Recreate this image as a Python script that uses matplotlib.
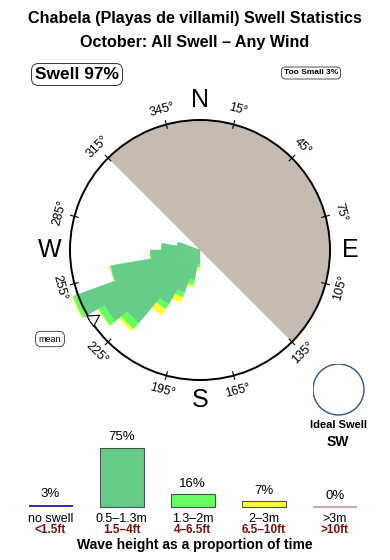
import numpy as np
import matplotlib
matplotlib.use('Agg')
import matplotlib.pyplot as plt
from matplotlib.transforms import blended_transform_factory

plt.rcParams['font.family'] = ['Liberation Sans', 'DejaVu Sans']

# ---------------- data ----------------
title_lines = ["Chabela (Playas de villamil) Swell Statistics",
               "October: All Swell – Any Wind"]
swell_pct = 97
too_small_pct = 3
ideal_dir = "SW"

rose_dirs = [185, 195, 205, 215, 225, 235, 245, 255, 265, 275, 285]
rose_band1 = [14, 30, 45, 62, 95, 110, 131, 90, 49.5, 38.5, 23]   # 0.5-1.3m
rose_band2 = [3, 5, 5, 6, 8, 7, 4, 1, 0, 0, 0]                     # 1.3-2m
rose_band3 = [3, 2, 6, 7, 3, 1, 1, 0, 0, 0, 0]                     # 2-3m
rose_rmax = 130
mean_dir = 237

compass_ticks = [15, 45, 75, 105, 135, 165, 195, 225, 255, 285, 315, 345]
compass_points = ["N", "E", "S", "W"]
compass_angles = [0, 90, 180, 270]
shade_start = 315
shade_span = 180

height_cats = ["no swell", "0.5–1.3m", "1.3–2m", "2–3m", ">3m"]
height_ft = ["<1.5ft", "1.5–4ft", "4–6.5ft", "6.5–10ft", ">10ft"]
height_pct = [3, 75, 16, 7, 0]
height_colors = ["#3333aa", "#66cc88", "#66ff66", "#ffff33", "#c8a8a8"]
height_edges = ["#3333aa", "#445544", "#445544", "#555533", "#c8a8a8"]

# ---------------- figure ----------------
W, H = 390, 560
fig = plt.figure(figsize=(W / 100, H / 100), dpi=100)
fig.patch.set_facecolor('white')

def fx(px):
    return px / W

def fy(py):
    return 1 - py / H

fig.text(fx(195), fy(18), title_lines[0], ha='center', va='center',
         fontsize=11.6, fontweight='bold')
fig.text(fx(195), fy(42), title_lines[1], ha='center', va='center',
         fontsize=11.6, fontweight='bold')

fig.text(fx(77), fy(74.5), f"Swell {swell_pct}%", ha='center', va='center',
         fontsize=12.5, fontweight='bold',
         bbox=dict(boxstyle='round,pad=0.2,rounding_size=0.4', fc='white', ec='#333333', lw=0.7))
fig.text(fx(311), fy(73), f"Too Small {too_small_pct}%", ha='center', va='center',
         fontsize=6, fontweight='bold',
         bbox=dict(boxstyle='round,pad=0.3,rounding_size=0.5', fc='white', ec='#333333', lw=0.6))
fig.text(fx(50), fy(339), "mean", ha='center', va='center', fontsize=6.5,
         bbox=dict(boxstyle='round,pad=0.35,rounding_size=0.6', fc='white', ec='#333333', lw=0.6))

# ---------------- rose ----------------
cx, cy, R = 200, 250, 130
axp = fig.add_axes([fx(cx - R), fy(cy + R), 2 * R / W, 2 * R / H], projection='polar')
axp.set_theta_zero_location('N')
axp.set_theta_direction(-1)
axp.set_ylim(0, rose_rmax)
axp.grid(False)
axp.set_xticks([])
axp.set_yticks([])
axp.spines['polar'].set_linewidth(1.4)

axp.bar(np.deg2rad(shade_start + shade_span / 2), rose_rmax,
        width=np.deg2rad(shade_span), bottom=0, color='#c5bbb0', linewidth=0, zorder=0.5)

th = np.deg2rad(rose_dirs)
wd = np.deg2rad(10)
b1 = np.array(rose_band1, dtype=float)
b2 = np.array(rose_band2, dtype=float)
b3 = np.array(rose_band3, dtype=float)
for bottom, hgt, col in [(b1 + b2, b3, '#ffff33'), (b1, b2, '#66ff66'), (0, b1, '#66cc88')]:
    bars = axp.bar(th, hgt, width=wd, bottom=bottom, color=col, edgecolor=col,
                   linewidth=0.3, zorder=1)
    for b in bars:
        b.set_clip_on(False)

for t in compass_ticks:
    a = np.deg2rad(t)
    axp.plot([a, a], [rose_rmax * 0.97, rose_rmax * 1.03], color='k', lw=0.8, clip_on=False)
    rot = -t if (t > 270 or t < 90) else 180 - t
    axp.text(a, rose_rmax * 1.12, f"{t}°", rotation=rot, rotation_mode='anchor',
             ha='center', va='center', fontsize=9)

for lab, ang in zip(compass_points, compass_angles):
    axp.text(np.deg2rad(ang), rose_rmax * 1.155, lab, ha='center', va='center', fontsize=18)

am = np.deg2rad(mean_dir)
axp.annotate('', xy=(am, rose_rmax * 0.9), xytext=(am, rose_rmax * 1.03),
             arrowprops=dict(arrowstyle='simple,head_length=0.8,head_width=0.9,tail_width=0.35',
                             fc='white', ec='black', lw=0.8), annotation_clip=False)

# ---------------- ideal swell ----------------
axi = fig.add_axes([fx(338.5 - 26), fy(389.5 + 26), 52 / W, 52 / H])
axi.set_xlim(-1.02, 1.02)
axi.set_ylim(-1.02, 1.02)
axi.set_aspect('equal')
axi.axis('off')
axi.add_patch(plt.Circle((0, 0), 1, fc='white', ec='#335577', lw=1))
fig.text(fx(338), fy(425), "Ideal Swell", ha='center', va='center', fontsize=8, fontweight='bold')
fig.text(fx(338), fy(441.5), ideal_dir, ha='center', va='center', fontsize=10, fontweight='bold')

# ---------------- height bars ----------------
axb = fig.add_axes([fx(15), fy(507), 355.5 / W, 100 / H])
axb.set_xlim(-0.5, 4.5)
axb.set_ylim(0, 100 / 0.787)
axb.axis('off')
xs = np.arange(len(height_pct))
lws = [0, 0.8, 0.8, 0.8, 1.5]
axb.bar(xs, height_pct, width=0.62, color=height_colors, edgecolor=height_edges,
        linewidth=lws, clip_on=False)
for x, v in zip(xs, height_pct):
    axb.annotate(f"{v}%", (x, v), xytext=(0, 3.5), textcoords='offset points',
                 ha='center', va='bottom', fontsize=9.5, annotation_clip=False)
tr = blended_transform_factory(axb.transData, fig.transFigure)
for x, c, f in zip(xs, height_cats, height_ft):
    axb.text(x, fy(518.5), c, transform=tr, ha='center', va='center', fontsize=9)
    axb.text(x, fy(530), f, transform=tr, ha='center', va='center', fontsize=8.5,
             color='#7a1010', fontweight='bold')
fig.text(fx(195), fy(544.5), "Wave height as a proportion of time", ha='center',
         va='center', fontsize=10, fontweight='bold')

fig.savefig('out.png', dpi=100)
